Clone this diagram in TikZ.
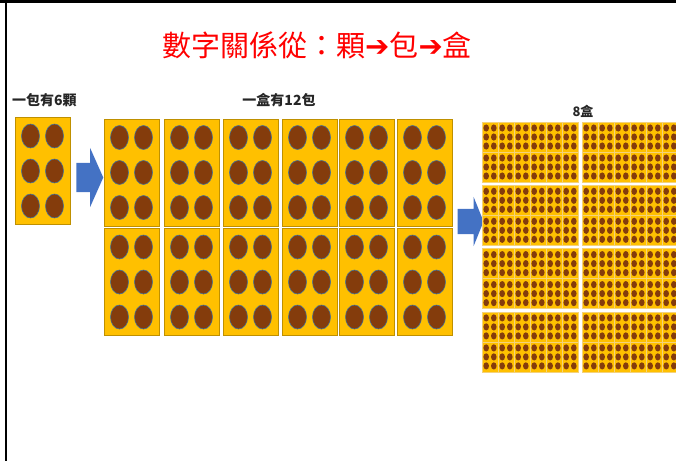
\documentclass[tikz,border=0pt]{standalone}
\usepackage{fontspec}
\usetikzlibrary{shapes.arrows}
\newfontfamily\cjk{Noto Sans CJK TC}
\newfontfamily\symb{DejaVu Sans}

\definecolor{packfill}{HTML}{FFC000}
\definecolor{packline}{HTML}{BF9000}
\definecolor{packlight}{HTML}{F4D27C}
\definecolor{beanfill}{HTML}{843C0C}
\definecolor{beanline}{HTML}{41719C}
\definecolor{arrowblue}{HTML}{4472C4}

% paquete grande: nombre, x, y (centro)
\newcommand{\paquete}[3]{%
  \node (#1) [pack] at (#2,#3) {};
  \foreach \dx in {-12,12}
    \foreach \dy in {-35,0,35}
      \draw [bean] (#2+\dx,#3+\dy) ellipse (9 and 12);
}
% paquete chico: nombre, x, y (centro)
\newcommand{\paquetito}[3]{%
  \node (#1) [minipack] at (#2,#3) {};
  \foreach \dx in {-3.8,3.8}
    \foreach \dy in {-9,0,9}
      \fill [beanfill] (#2+\dx,#3+\dy) ellipse (2.8 and 3.6);
}

\begin{document}
\begin{tikzpicture}[x=1pt, y=-1pt]
    % Estilos
    \tikzstyle{pack} = [rectangle, draw=packline, fill=packfill, line width=0.8pt, minimum width=55, minimum height=107, inner sep=0]
    \tikzstyle{minipack} = [rectangle, draw=packlight, fill=packfill, line width=0.6pt, minimum width=16, minimum height=30, inner sep=0]
    \tikzstyle{bean} = [fill=beanfill, draw=beanline, line width=0.6pt]
    \tikzstyle{bigarrow} = [single arrow, fill=arrowblue, draw=none, inner xsep=0]
    \tikzstyle{label} = [font=\cjk\bfseries\fontsize{14}{14}\selectfont, text=black!85, inner sep=0]

    \useasboundingbox (0,0) rectangle (676,461);
    \draw [line width=3pt] (0,1.5) -- (676,1.5);
    \draw [line width=2.5pt] (6,0) -- (6,461);

    % Titulo y etiquetas
    \node (titulo) [text=red, font=\cjk\fontsize{29}{29}\selectfont] at (317,45) {數字關係從：顆{\symb\bfseries ➔}包{\symb\bfseries ➔}盒};
    \node (lab1) [label, anchor=west] at (12,100) {一包有6顆};
    \node (lab2) [label] at (279,100) {一盒有12包};
    \node (lab3) [label, font=\cjk\bfseries\fontsize{13}{13}\selectfont] at (583,111) {8盒};

    % Un paquete
    \paquete{p0}{42.5}{171}

    % Flechas
    \node (flecha1) [bigarrow, inner ysep=14.5, minimum height=27, single arrow head extend=15, single arrow tip angle=132] at (86.5,177.5) {};
    \node (flecha2) [bigarrow, inner ysep=12.5, minimum height=26, single arrow head extend=12, single arrow tip angle=136] at (468,221.5) {};

    % Una caja: 12 paquetes
    \foreach \x [count=\i] in {131.5,191.5,250.5,309.5,366.5,424.5} {
      \paquete{a\i}{\x}{172.5}
      \paquete{b\i}{\x}{282}
    }

    % 8 cajas
    \foreach \c in {0,1}
      \foreach \r in {0,1,2,3}
        \foreach \j in {0,...,5}
          \foreach \k in {0,1} {
            \paquetito{s\c\r\j\k}{482+100*\c+8+16*\j}{122+63.3*\r+15+30*\k}
          }
\end{tikzpicture}
\end{document}
